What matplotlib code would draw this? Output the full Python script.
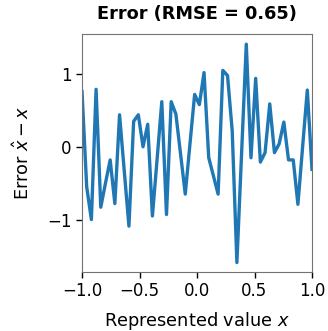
import numpy as np
import matplotlib
matplotlib.use("Agg")
import matplotlib.pyplot as plt

# Decoding error sampled at evenly spaced represented values
x_values = np.linspace(-1.0, 1.0, 50)
error_values = [
    0.76, -0.55, -1.00, 0.79, -0.83, -0.50, -0.18, -0.78, 0.44, -0.33,
    -1.09, 0.35, 0.44, 0.00, 0.31, -0.95, -0.17, 0.62, -0.93, 0.62,
    0.45, -0.10, -0.65, 0.04, 0.72, 0.58, 1.02, -0.15, -0.40, -0.65,
    1.05, 0.98, 0.22, -1.59, -0.09, 1.41, -0.15, 0.94, -0.21, -0.08,
    0.59, -0.08, 0.04, 0.34, -0.18, -0.18, -0.79, 0.00, 0.78, -0.31,
]
title_text = "Error (RMSE = 0.65)"
x_ticks = [-1.0, -0.5, 0.0, 0.5, 1.0]
y_ticks = [-1, 0, 1]

plt.rcParams["font.size"] = 12

fig = plt.figure(figsize=(3.28, 3.31), dpi=100)
ax = fig.add_axes([82 / 328, 59 / 331, 230 / 328, 238 / 331])

ax.plot(x_values, error_values, color="#1f77b4", linewidth=2.4)

ax.set_xlim(-1.0, 1.0)
ax.set_ylim(-1.72, 1.55)
ax.set_xticks(x_ticks)
ax.set_yticks(y_ticks)
for spine in ax.spines.values():
    spine.set_color("0.45")
ax.tick_params(length=4, width=1.0, color="black")
ax.set_xlabel("Represented value $x$", fontsize=12.8, labelpad=7)
ax.set_ylabel(r"Error $\hat{x} - x$", fontsize=12.8, labelpad=10)
ax.set_title(title_text, fontweight="bold", fontsize=12.8, pad=11)

fig.savefig("out.png", dpi=100)
